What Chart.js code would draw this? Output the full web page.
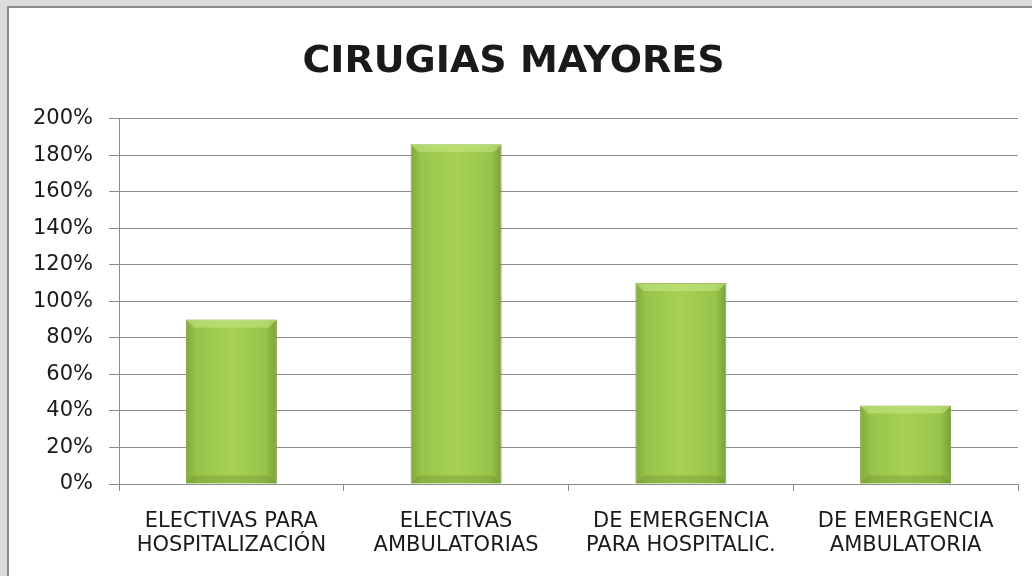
<!DOCTYPE html>
<html lang="es">
<head>
<meta charset="UTF-8">
<title>Cirugias mayores</title>
<script src="https://cdn.jsdelivr.net/npm/chart.js"></script>
<style>
    body {
        margin: 0;
        background-color: #dcdcdc;
        overflow: hidden;
    }

    .frame {
        position: absolute;
        left: 7px;
        top: 6px;
        width: 1040px;
        height: 590px;
        background: white;
        border: 2px solid #8a8a8a;
    }

    .frame canvas {
        position: absolute;
        left: 0;
        top: 0;
    }
</style>
</head>
<body>
<div class="frame">
    <div style="width:1023px;height:568px;position:relative">
        <canvas id="chart"></canvas>
    </div>
</div>

<script>
    // datos
    const categories = [
        ['ELECTIVAS PARA', 'HOSPITALIZACIÓN'],
        ['ELECTIVAS', 'AMBULATORIAS'],
        ['DE EMERGENCIA', 'PARA HOSPITALIC.'],
        ['DE EMERGENCIA', 'AMBULATORIA']
    ];
    const values = [90, 186, 110, 43];
    const yTicks = [0, 20, 40, 60, 80, 100, 120, 140, 160, 180, 200];

    const gridColor = '#8c8c8c';
    const textColor = '#1a1a1a';
    const barPct = 0.405;

    // degradado horizontal por barra
    function barFill(c) {
        const chart = c.chart;
        const x = chart.scales.x;
        if (!chart.chartArea || !x) return '#9cc94c';
        const cx = x.getPixelForValue(c.dataIndex);
        const half = (x.width / categories.length) * barPct / 2;
        const g = chart.ctx.createLinearGradient(cx - half, 0, cx + half, 0);
        g.addColorStop(0, '#83a93c');
        g.addColorStop(0.12, '#97c44a');
        g.addColorStop(0.5, '#a6d154');
        g.addColorStop(0.88, '#97c44a');
        g.addColorStop(1, '#7c9f38');
        return g;
    }

    // bisel arriba / abajo
    const bevel = {
        id: 'bevel',
        afterDatasetsDraw(chart) {
            const ctx = chart.ctx;
            chart.getDatasetMeta(0).data.forEach(bar => {
                const l = bar.x - bar.width / 2, r = bar.x + bar.width / 2;
                const t = bar.y, b = bar.base, d = 8;
                ctx.save();
                ctx.fillStyle = 'rgba(205,235,140,0.5)';
                ctx.beginPath();
                ctx.moveTo(l, t); ctx.lineTo(r, t); ctx.lineTo(r - d, t + d); ctx.lineTo(l + d, t + d);
                ctx.closePath(); ctx.fill();
                ctx.fillStyle = 'rgba(90,120,30,0.25)';
                ctx.beginPath();
                ctx.moveTo(l, b); ctx.lineTo(r, b); ctx.lineTo(r - d, b - d); ctx.lineTo(l + d, b - d);
                ctx.closePath(); ctx.fill();
                ctx.restore();
            });
        }
    };

    new Chart(document.getElementById('chart'), {
        type: 'bar',
        data: {
            labels: categories,
            datasets: [{
                data: values,
                backgroundColor: barFill,
                borderColor: '#7b9c3a',
                borderWidth: 1,
                barPercentage: barPct,
                categoryPercentage: 1
            }]
        },
        options: {
            responsive: true,
            maintainAspectRatio: false,
            animation: false,
            layout: { padding: { left: 0, right: 14, top: 0, bottom: 0 } },
            plugins: {
                legend: { display: false },
                tooltip: { enabled: false },
                title: {
                    display: true,
                    text: 'CIRUGIAS MAYORES',
                    color: textColor,
                    font: { family: 'DejaVu Sans', size: 38, weight: 'bold', lineHeight: 1.2 },
                    padding: { top: 31, bottom: 34 }
                }
            },
            scales: {
                x: {
                    grid: { drawOnChartArea: false, color: gridColor, tickLength: 7, offset: true },
                    border: { color: gridColor },
                    ticks: {
                        color: textColor,
                        font: { family: 'DejaVu Sans', size: 21, lineHeight: 1.15 },
                        padding: 18,
                        maxRotation: 0,
                        autoSkip: false
                    },
                    afterFit: s => { s.height = 92; }
                },
                y: {
                    min: 0,
                    max: 200,
                    afterBuildTicks: s => { s.ticks = yTicks.map(v => ({ value: v })); },
                    grid: { color: gridColor, tickLength: 10 },
                    border: { color: gridColor },
                    ticks: {
                        color: textColor,
                        font: { family: 'DejaVu Sans', size: 21 },
                        padding: 16,
                        callback: v => v + '%'
                    },
                    afterFit: s => { s.width = 110; }
                }
            }
        },
        plugins: [bevel]
    });
</script>
</body>
</html>
